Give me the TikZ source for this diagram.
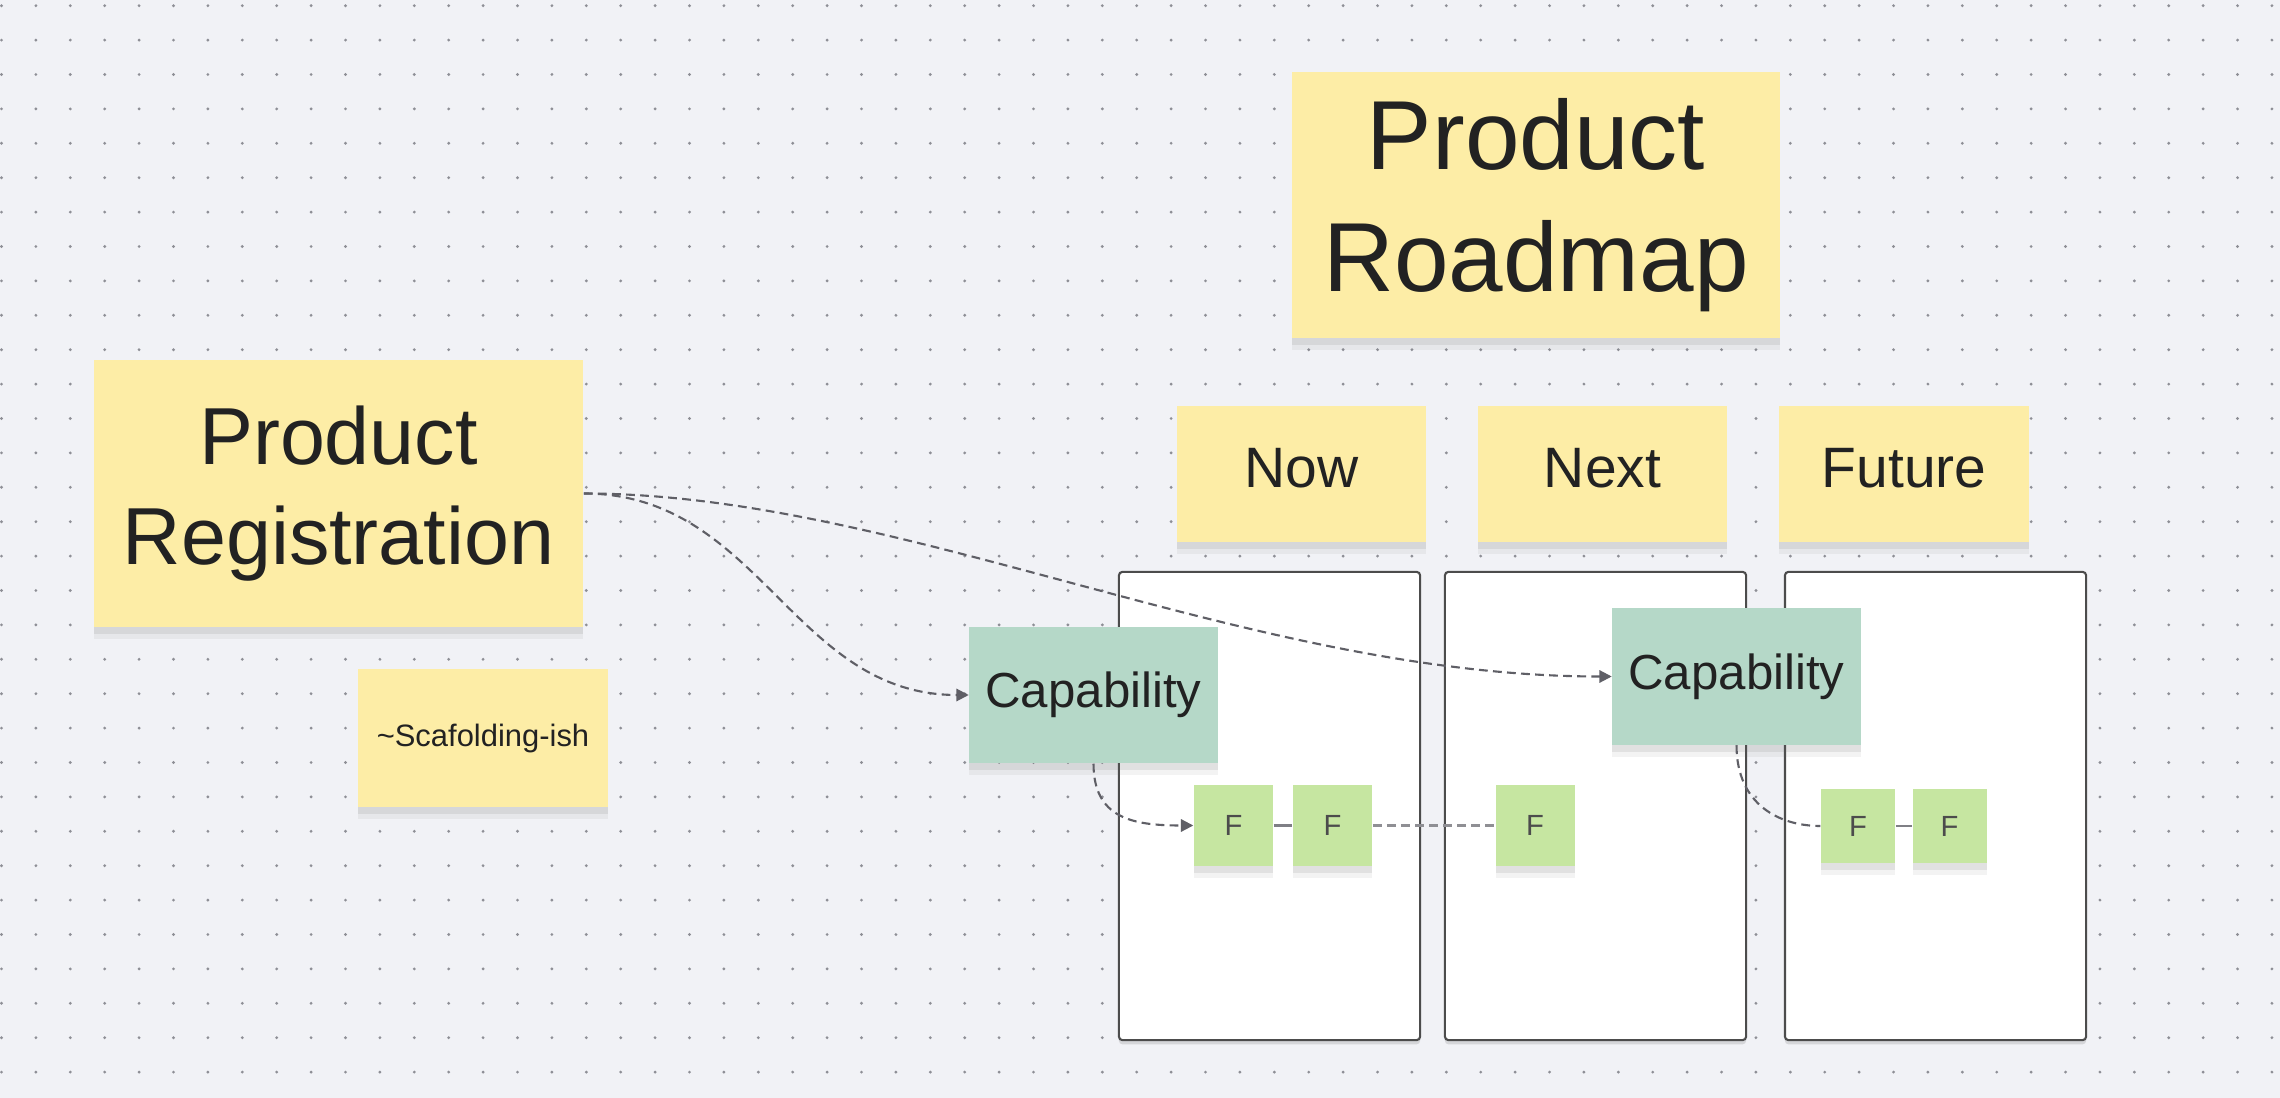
\documentclass[tikz,border=0pt]{standalone}
\usepackage{fontspec}
\setmainfont{Liberation Sans}
\usetikzlibrary{arrows.meta,shadows}

\definecolor{board}{HTML}{F1F2F6}
\definecolor{boarddot}{HTML}{8E8F96}
\definecolor{sticky}{HTML}{FDEDA6}
\definecolor{capteal}{HTML}{B5D8C8}
\definecolor{featgreen}{HTML}{C6E6A1}
\definecolor{ink}{HTML}{222222}
\definecolor{linkgray}{HTML}{5F5F66}

\tikzset{
    note/.style={fill=sticky, text=ink, inner sep=0pt, align=center,
        drop shadow={shadow xshift=0pt, shadow yshift=-3.5pt, fill=black!60, opacity=0.08},
        drop shadow={shadow xshift=0pt, shadow yshift=-2pt, fill=black!60, opacity=0.12}},
    capnote/.style={note, fill=capteal, minimum width=2.48cm, minimum height=1.36cm,
        font=\fontsize{14}{17}\selectfont},
    featnote/.style={note, fill=featgreen, text=black!70, font=\fontsize{8.3}{10}\selectfont},
    headnote/.style={note, minimum width=2.49cm, minimum height=1.36cm, text depth=3.7pt,
        font=\fontsize{16.2}{19}\selectfont},
    column/.style={draw=black!70, line width=0.6pt, fill=white, rounded corners=1pt,
        minimum width=3.01cm, minimum height=4.68cm,
        drop shadow={shadow xshift=0pt, shadow yshift=-1.2pt, fill=black!60, opacity=0.2}},
    link/.style={draw=linkgray, line width=0.6pt, dash pattern=on 2.5pt off 1.5pt},
    solidlink/.style={draw=linkgray!80, line width=0.8pt},
    tip/.style={-{Triangle[length=3.5pt,width=3.5pt]}}
}

\begin{document}
\begin{tikzpicture}[x=0.01cm,y=-0.01cm]
    \fill[board] (0,0) rectangle (2280,1098);
    \useasboundingbox (0,0) rectangle (2280,1098);
    \foreach \i in {0,...,66}
        \foreach \j in {0,...,31}
            \fill[boarddot] (1.5+34.4*\i,5.7+34.4*\j) circle[radius=0.45pt];

    \node[column] (col1) at (1269.5,806) {};
    \node[column] (col2) at (1595.5,806) {};
    \node[column] (col3) at (1935.5,806) {};

    \node[note, minimum width=4.88cm, minimum height=2.66cm,
        font=\fontsize{27.9}{34.7}\selectfont] (roadmap) at (1536,205) {Product\\Roadmap};
    \node[note, minimum width=4.89cm, minimum height=2.67cm,
        font=\fontsize{23}{28.45}\selectfont] (registration) at (338.5,493.5) {Product\\Registration};
    \node[note, minimum width=2.50cm, minimum height=1.38cm,
        font=\fontsize{8.8}{10}\selectfont] (scaffold) at (483,738) {\textasciitilde Scafolding-ish};

    \node[headnote] (now) at (1301.5,474) {Now};
    \node[headnote] (next) at (1602.5,474) {Next};
    \node[headnote] (future) at (1904,474) {Future};

    \node[capnote] (cap1) at (1093.5,695) {Capability};
    \node[capnote] (cap2) at (1736.5,676.5) {Capability};

    \node[featnote, minimum width=0.79cm, minimum height=0.81cm] (f1) at (1233.5,825.5) {F};
    \node[featnote, minimum width=0.79cm, minimum height=0.81cm] (f2) at (1332.5,825.5) {F};
    \node[featnote, minimum width=0.79cm, minimum height=0.81cm] (f3) at (1535,825.5) {F};
    \node[featnote, minimum width=0.74cm, minimum height=0.74cm] (f4) at (1858,826) {F};
    \node[featnote, minimum width=0.74cm, minimum height=0.74cm] (f5) at (1949.5,826) {F};

    \draw[link,tip] (registration.east) .. controls +(176,0) and +(-176,0) .. (cap1.west);
    \draw[link,tip] (registration.east) .. controls +(317,0) and +(-363,0) .. (cap2.west);
    \draw[link,tip] (cap1.south) .. controls +(0,55) and +(-60,0) .. (f1.west);
    \draw[link] (cap2.south) .. controls +(0,60) and +(-40,0) .. (f4.west);
    \draw[solidlink] (f1.east) -- (f2.west);
    \draw[link,draw=linkgray!70] (f2.east) -- (f3.west);
    \draw[solidlink] (f4.east) -- (f5.west);
\end{tikzpicture}
\end{document}
